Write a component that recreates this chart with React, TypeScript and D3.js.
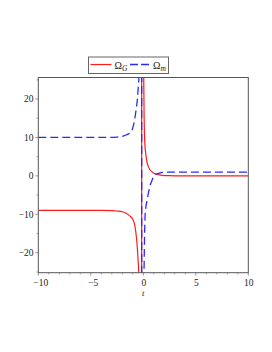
import * as d3 from "d3";

const W = 272;
const H = 352;
const LEFT = 38.3;
const RIGHT = 248.3;
const TOP = 77.5;
const BOTTOM = 272.7;

// [t, value]; the near-vertical pairs are the jump Maple draws at the pole
const omegaG: [number, number][] = [
  [-10, -9], [-4, -9], [-3, -9.05], [-2.5, -9.15], [-2, -9.35], [-1.6, -9.8],
  [-1.3, -10.4], [-1.0, -11.3], [-0.8, -13], [-0.63, -16.7], [-0.5, -21.8],
  [-0.43, -26], [-0.3, -60], [-0.16, -3000], [-0.15, 3000], [-0.05, 120],
  [0.0, 45], [0.04, 25.8], [0.08, 15], [0.12, 10.2], [0.16, 7.8], [0.23, 5.8],
  [0.35, 3.6], [0.48, 2.4], [0.64, 1.6], [0.95, 0.8], [1.3, 0.4], [1.8, 0.15],
  [2.5, 0.05], [3.5, 0], [10, 0],
];

const omegaM: [number, number][] = [
  [-10, 10], [-3, 10], [-2.5, 10.1], [-2, 10.3], [-1.6, 10.7], [-1.27, 11.2],
  [-1.0, 12.5], [-0.8, 15], [-0.65, 18], [-0.57, 19.7], [-0.47, 23.5],
  [-0.4, 26.5], [-0.3, 60], [-0.16, 3000], [-0.15, -3000], [-0.05, -120],
  [0.03, -40], [0.07, -25.5], [0.1, -19], [0.16, -11], [0.25, -8], [0.35, -6.5],
  [0.45, -5], [0.6, -3], [0.8, -1.4], [0.95, -0.3], [1.1, 0.2], [1.4, 0.6],
  [1.9, 0.9], [2.5, 1.0], [10, 1],
];

const X_MAJOR = [-10, -5, 0, 5, 10];
const Y_MAJOR = [-20, -10, 0, 10, 20];
const X_MINOR = d3.range(-10, 11, 1).filter((v) => !X_MAJOR.includes(v));
const Y_MINOR = [-25, -15, -5, 5, 15, 25];

const FONT = "'Liberation Serif', 'DejaVu Serif', serif";
const RED = "#ff1a1a";
const BLUE = "#2a2aff";

const fmt = (v: number) => (v < 0 ? `\u2212${Math.abs(v)}` : `${v}`);

export default function App() {
  const x = d3.scaleLinear().domain([-10, 10]).range([LEFT, RIGHT]);
  const y = d3.scaleLinear().domain([-25.2, 25.6]).range([BOTTOM, TOP]);

  const line = d3
    .line<[number, number]>()
    .x((d) => x(d[0]))
    .y((d) => y(d[1]))
    .curve(d3.curveMonotoneX);

  return (
    <svg
      width={W}
      height={H}
      style={{ position: "absolute", left: 0, top: 0, background: "#fff" }}
      fontFamily={FONT}
    >
      <defs>
        <clipPath id="plot">
          <rect x={LEFT} y={TOP} width={RIGHT - LEFT} height={BOTTOM - TOP} />
        </clipPath>
      </defs>

      {/* ticks */}
      {X_MINOR.map((v) => (
        <line key={`xm${v}`} x1={x(v)} x2={x(v)} y1={BOTTOM} y2={BOTTOM + 1.8} stroke="#aaa" />
      ))}
      {X_MAJOR.map((v) => (
        <line key={`xM${v}`} x1={x(v)} x2={x(v)} y1={BOTTOM} y2={BOTTOM + 3} stroke="#999" />
      ))}
      {Y_MINOR.map((v) => (
        <line key={`ym${v}`} x1={LEFT - 1.8} x2={LEFT} y1={y(v)} y2={y(v)} stroke="#aaa" />
      ))}
      {Y_MAJOR.map((v) => (
        <line key={`yM${v}`} x1={LEFT - 3} x2={LEFT} y1={y(v)} y2={y(v)} stroke="#999" />
      ))}

      {/* tick labels */}
      {X_MAJOR.map((v) => (
        <text
          key={`xl${v}`}
          x={x(v) + (v < 0 ? 2.5 : 0.5)}
          y={285.5}
          textAnchor="middle"
          fontSize={9.5}
          fill="#222"
        >
          {fmt(v)}
        </text>
      ))}
      {Y_MAJOR.map((v) => (
        <text
          key={`yl${v}`}
          x={33.5}
          y={y(v) + 3.3}
          textAnchor="end"
          fontSize={9.5}
          fill="#222"
        >
          {fmt(v)}
        </text>
      ))}
      <text x={x(0)} y={296} textAnchor="middle" fontSize={8.5} fontStyle="italic" fill="#222">
        t
      </text>

      {/* curves */}
      <g clipPath="url(#plot)">
        <path d={line(omegaG) ?? ""} fill="none" stroke={RED} strokeWidth={1.2} />
        <path
          d={line(omegaM) ?? ""}
          fill="none"
          stroke={BLUE}
          strokeWidth={1.3}
          strokeDasharray="8,4"
        />
      </g>

      {/* frame */}
      <rect
        x={LEFT}
        y={TOP}
        width={RIGHT - LEFT}
        height={BOTTOM - TOP}
        fill="none"
        stroke="#555"
        strokeWidth={1}
      />

      {/* legend */}
      <rect x={88.5} y={57} width={80} height={16.5} fill="#fff" stroke="#666" strokeWidth={1} />
      <line x1={90.5} x2={111.5} y1={64.5} y2={64.5} stroke={RED} strokeWidth={1.2} />
      <text x={114.5} y={68.5} fontSize={10} fill="#222">
        Ω
        <tspan fontSize={7.5} fontStyle="italic" dy={2.8}>
          G
        </tspan>
      </text>
      <line
        x1={130}
        x2={151}
        y1={64.5}
        y2={64.5}
        stroke={BLUE}
        strokeWidth={1.3}
        strokeDasharray="8,3"
      />
      <text x={153} y={68.5} fontSize={10} fill="#222">
        Ω
        <tspan fontSize={7.5} fontStyle="italic" dy={2.8}>
          m
        </tspan>
      </text>
    </svg>
  );
}
